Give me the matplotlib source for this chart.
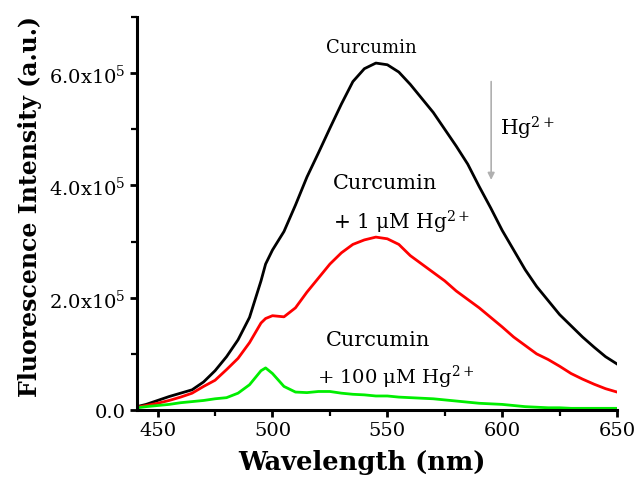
import matplotlib
matplotlib.use("Agg")
import matplotlib.pyplot as plt
from matplotlib.ticker import MultipleLocator, FuncFormatter

plt.rcParams["font.family"] = ["DejaVu Serif"]
plt.rcParams["mathtext.fontset"] = "custom"
plt.rcParams["mathtext.rm"] = "DejaVu Serif"
plt.rcParams["mathtext.it"] = "DejaVu Serif:italic"
plt.rcParams["mathtext.bf"] = "DejaVu Serif:bold"

# Emission wavelength (nm)
wavelength = [441, 445, 450, 455, 460, 465, 470, 475, 480, 485, 490, 495, 497,
              500, 505, 510, 515, 520, 525, 530, 535, 540, 545, 550, 555, 560,
              565, 570, 575, 580, 585, 590, 595, 600, 605, 610, 615, 620, 625,
              630, 635, 640, 645, 650]

# Fluorescence intensity, in units of 1e5 a.u.
curcumin = [0.06, 0.10, 0.17, 0.24, 0.30, 0.36, 0.50, 0.70, 0.95, 1.25, 1.65,
            2.30, 2.60, 2.85, 3.18, 3.65, 4.15, 4.58, 5.02, 5.45, 5.85, 6.08,
            6.18, 6.15, 6.02, 5.80, 5.55, 5.30, 5.00, 4.70, 4.38, 3.98, 3.60,
            3.20, 2.85, 2.50, 2.20, 1.95, 1.70, 1.50, 1.30, 1.12, 0.95, 0.82]
hg_1uM = [0.05, 0.08, 0.12, 0.17, 0.23, 0.30, 0.42, 0.53, 0.72, 0.92, 1.20,
          1.55, 1.63, 1.68, 1.66, 1.82, 2.10, 2.35, 2.60, 2.80, 2.95, 3.03,
          3.08, 3.05, 2.95, 2.75, 2.60, 2.45, 2.30, 2.12, 1.97, 1.82, 1.65,
          1.48, 1.30, 1.15, 1.00, 0.90, 0.78, 0.65, 0.55, 0.46, 0.38, 0.32]
hg_100uM = [0.04, 0.06, 0.08, 0.10, 0.13, 0.15, 0.17, 0.20, 0.22, 0.30, 0.45,
            0.70, 0.75, 0.65, 0.42, 0.32, 0.31, 0.33, 0.33, 0.30, 0.28, 0.27,
            0.25, 0.25, 0.23, 0.22, 0.21, 0.20, 0.18, 0.16, 0.14, 0.12, 0.11,
            0.10, 0.08, 0.06, 0.05, 0.04, 0.04, 0.03, 0.03, 0.03, 0.03, 0.03]

scale = 1e5
fig = plt.figure(figsize=(6.35, 4.81), dpi=100)
ax = fig.add_axes([0.2157, 0.1455, 0.756, 0.817])

ax.plot(wavelength, [v * scale for v in curcumin], color="black", lw=2.0)
ax.plot(wavelength, [v * scale for v in hg_1uM], color="#ff0000", lw=2.0)
ax.plot(wavelength, [v * scale for v in hg_100uM], color="#00ee00", lw=2.0)

ax.set_xlim(441, 650)
ax.set_ylim(0, 7e5)
ax.xaxis.set_major_locator(MultipleLocator(50))
ax.xaxis.set_minor_locator(MultipleLocator(25))
ax.yaxis.set_major_locator(MultipleLocator(2e5))
ax.yaxis.set_minor_locator(MultipleLocator(1e5))


def sci_fmt(v, pos):
    if v == 0:
        return "0.0"
    return r"%.1fx10$^{\mathregular{5}}$" % (v / 1e5)


ax.yaxis.set_major_formatter(FuncFormatter(sci_fmt))

for side in ("top", "right"):
    ax.spines[side].set_visible(False)
for side in ("left", "bottom"):
    ax.spines[side].set_linewidth(2.2)

ax.tick_params(which="major", direction="out", length=5, width=2, labelsize=14,
               pad=3)
ax.tick_params(which="minor", direction="out", length=4, width=1.6)

ax.set_xlabel("Wavelength (nm)", fontsize=18.5, fontweight="bold")
ax.set_ylabel("Fluorescence Intensity (a.u.)", fontsize=17, fontweight="bold")
ax.xaxis.set_label_coords(0.469, -0.100)
ax.yaxis.set_label_coords(-0.198, 0.52)

ax.text(543, 6.47e5, "Curcumin", fontsize=13, ha="center", va="center")
ax.text(549, 4.05e5, "Curcumin", fontsize=15, ha="center", va="center")
ax.text(556, 3.36e5, r"+ 1 μM Hg$^{\mathregular{2+}}$", fontsize=14.5,
        ha="center", va="center")
ax.text(546, 1.26e5, "Curcumin", fontsize=15, ha="center", va="center")
ax.text(553.5, 0.60e5, r"+ 100 μM Hg$^{\mathregular{2+}}$", fontsize=14,
        ha="center", va="center")
ax.text(599, 5.03e5, r"Hg$^{\mathregular{2+}}$", fontsize=14.5, ha="left",
        va="center")

ax.annotate("", xy=(595.2, 4.05e5), xytext=(595.2, 5.9e5),
            arrowprops=dict(arrowstyle="-|>", color="#b0b0b0", lw=1.2,
                            mutation_scale=10))

fig.savefig("out.png", dpi=100)
